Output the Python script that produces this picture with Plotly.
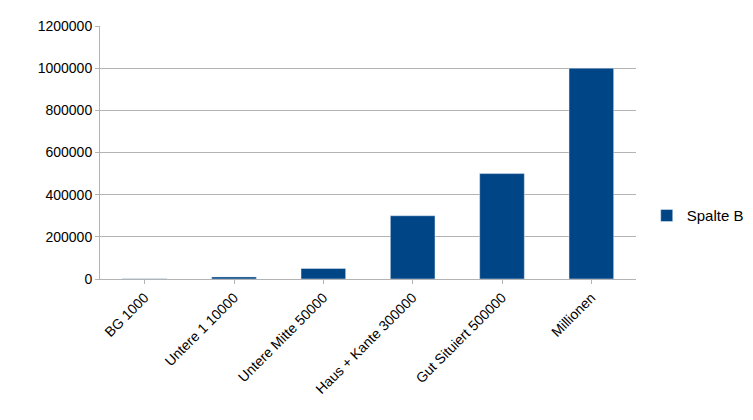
import plotly.graph_objects as go

# Data
categories = ["BG 1000", "Untere 1 10000", "Untere Mitte 50000",
              "Haus + Kante 300000", "Gut Situiert 500000", "Millionen"]
values = [1000, 10000, 50000, 300000, 500000, 1000000]

fig = go.Figure(go.Bar(x=categories, y=values, name="Spalte B",
                       marker_color="#004586", width=0.5, showlegend=True))

fig.update_layout(
    width=753, height=420,
    margin=dict(l=92, r=115, t=18, b=149),
    plot_bgcolor="white", paper_bgcolor="white",
    font=dict(family="Liberation Sans, Arial", size=14, color="black"),
    legend=dict(x=1.02, y=0.25, yanchor="middle", font=dict(size=15),
                itemwidth=30),
)
fig.update_xaxes(tickangle=-45, showline=True, linecolor="#b3b3b3",
                 ticks="outside", tickcolor="#b3b3b3", ticklen=4,
                 automargin=False)
fig.update_yaxes(range=[0, 1200000], dtick=200000, tickformat="d",
                 gridcolor="#b3b3b3", zeroline=False, showline=True,
                 linecolor="#b3b3b3", ticks="outside", tickcolor="#b3b3b3",
                 ticklen=4, automargin=False)

fig.write_html("out.html")
